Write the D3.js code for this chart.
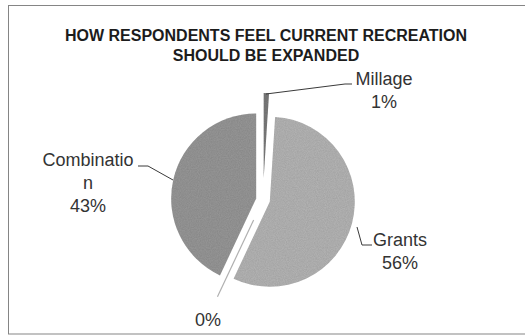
<!DOCTYPE html>
<html>
<head>
<meta charset="utf-8">
<script src="https://cdn.jsdelivr.net/npm/d3@7"></script>
<style>
  html, body { margin: 0; padding: 0; background: #ffffff; }
  svg { display: block; }
</style>
</head>
<body>
<script>
// ---- data ----
const titleLines = ["HOW RESPONDENTS FEEL CURRENT RECREATION", "SHOULD BE EXPANDED"];
const categories = ["Millage", "Grants", "", "Combination"];
const values = [1, 56, 0, 43];
const nameLines = [["Millage"], ["Grants"], [], ["Combinatio", "n"]];

// ---- layout ----
const W = 525, H = 336;
const cx = 263, cy = 200, R = 85;
const explode = [22, 7, 22, 7];
const fills = ["#7c7c7c", "#b6b6b6", "#b0b0b0", "#989898"];
const lineH = 23;
// label anchor: center x, first baseline y
const labelPos = [[384, 85], [400, 246], [208, 326], [88, 166]];
// leader lines
const leaders = [
  [[266, 94], [345, 84], [352, 84]],
  [[357, 227], [362, 245], [372, 245]],
  null,
  [[138, 166], [148, 166], [173, 180]]
];

const svg = d3.select("body").append("svg").attr("width", W).attr("height", H);

// grain filter to mimic the scanned texture
const defs = svg.append("defs");
const f = defs.append("filter").attr("id", "grain").attr("x", 0).attr("y", 0).attr("width", 1).attr("height", 1);
f.append("feTurbulence").attr("type", "fractalNoise").attr("baseFrequency", 0.9)
  .attr("numOctaves", 2).attr("seed", 3).attr("result", "noise");
f.append("feColorMatrix").attr("in", "noise").attr("type", "matrix")
  .attr("values", "0 0 0 0 0  0 0 0 0 0  0 0 0 0 0  0 0 0 0.25 0").attr("result", "dark");
f.append("feComposite").attr("in", "dark").attr("in2", "SourceGraphic").attr("operator", "in").attr("result", "dk");
f.append("feMerge").call(m => { m.append("feMergeNode").attr("in", "SourceGraphic"); m.append("feMergeNode").attr("in", "dk"); });

svg.append("rect").attr("x", 8.5).attr("y", 5.5).attr("width", 520).attr("height", 328.5)
  .attr("fill", "#fff").attr("stroke", "#858585").attr("stroke-width", 1);

// title
svg.append("g").selectAll("text").data(titleLines).join("text")
  .attr("x", 266).attr("y", (d, i) => 41 + i * 20)
  .attr("text-anchor", "middle")
  .attr("font-family", "'Liberation Sans', Arial, sans-serif")
  .attr("font-weight", "bold").attr("font-size", 16)
  .attr("fill", "#1c1c1c")
  .text(d => d);

const total = d3.sum(values);
const pie = d3.pie().sort(null).value(d => d)(values);
const arc = d3.arc().innerRadius(0).outerRadius(R);

const g = svg.append("g").attr("transform", `translate(${cx},${cy})`);

pie.forEach((p, i) => {
  const mid = (p.startAngle + p.endAngle) / 2;
  const [ox, oy] = d3.pointRadial(mid, explode[i]);
  const sg = g.append("g").attr("transform", `translate(${ox},${oy})`);
  if (p.endAngle - p.startAngle > 1e-6) {
    sg.append("path").attr("d", arc(p)).attr("fill", fills[i]).attr("filter", "url(#grain)");
  } else {
    const [ex, ey] = d3.pointRadial(p.startAngle, R);
    sg.append("line").attr("x1", 0).attr("y1", 0).attr("x2", ex).attr("y2", ey)
      .attr("stroke", fills[i]).attr("stroke-width", 1.2);
  }
});

// leaders
const lineGen = d3.line();
leaders.forEach(l => {
  if (!l) return;
  svg.append("path").attr("d", lineGen(l)).attr("fill", "none")
    .attr("stroke", "#3a3a3a").attr("stroke-width", 1);
});

// labels
values.forEach((v, i) => {
  const lines = nameLines[i].concat([Math.round(v / total * 100) + "%"]);
  svg.append("g").selectAll("text").data(lines).join("text")
    .attr("x", labelPos[i][0]).attr("y", (d, k) => labelPos[i][1] + k * lineH)
    .attr("text-anchor", "middle")
    .attr("font-family", "'Liberation Sans', Arial, sans-serif")
    .attr("font-size", 18).attr("fill", "#333333")
    .text(d => d);
});
</script>
</body>
</html>
